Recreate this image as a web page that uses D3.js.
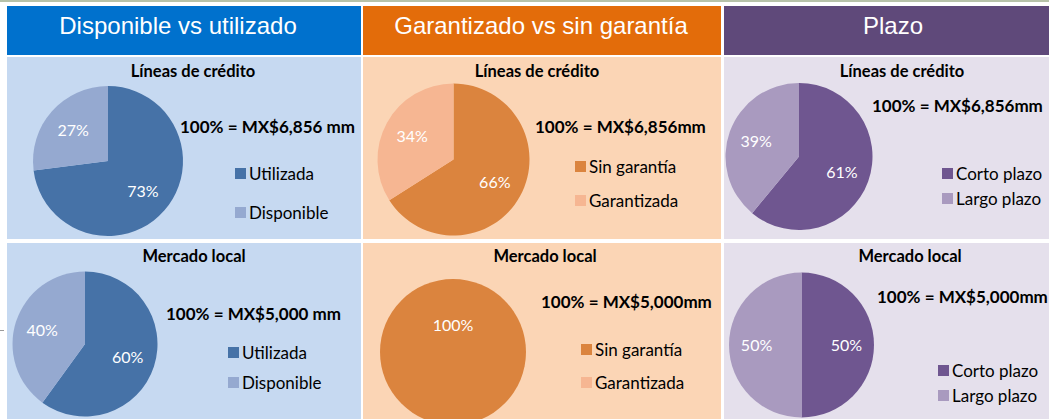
<!DOCTYPE html>
<html>
<head>
<meta charset="utf-8">
<script src="https://cdn.jsdelivr.net/npm/d3@7"></script>
<style>
  html, body { margin: 0; padding: 0; background: #fff; }
  svg { display: block; }
</style>
</head>
<body>
<div id="chart"></div>
<script>
// datos
const groups = ['Disponible vs utilizado', 'Garantizado vs sin garantía', 'Plazo'];
const rowTitles = ['Líneas de crédito', 'Mercado local'];
const seriesNames = [
    ['Utilizada', 'Disponible'],
    ['Sin garantía', 'Garantizada'],
    ['Corto plazo', 'Largo plazo']
];
const lineasValues = [[73, 27], [66, 34], [61, 39]];
const mercadoValues = [[60, 40], [100, 0], [50, 50]];
const lineasTotals = ['100% = MX$6,856 mm', '100% = MX$6,856mm', '100% = MX$6,856mm'];
const mercadoTotals = ['100% = MX$5,000 mm', '100% = MX$5,000mm', '100% = MX$5,000mm'];

const width = 1049;
const height = 419;

// colores por grupo
const headerColors = ['#0071CD', '#E36C0A', '#5F497A'];
const panelColors = ['#C6D9F1', '#FBD5B5', '#E5E0EC'];
const sliceColors = [['#4672A7', '#95A9D0'], ['#DB843E', '#F6B692'], ['#6F5690', '#A99ABF']];

// columnas y filas
const cols = [{ x0: 7, x1: 361 }, { x0: 363, x1: 721 }, { x0: 724, x1: 1049 }];
const header = { y0: 6, y1: 55 };
const rowsBox = [{ y0: 57, y1: 239 }, { y0: 243, y1: 419 }];

// posiciones de cada celda (fila, columna)
const layout = [
    [
        { cx: 108, cy: 161, r: 75, title: 193, titleY: 77, tx: 180, ty: 133, lx: 235, ly: [168, 207] },
        { cx: 453.5, cy: 159.5, r: 76, title: 537, titleY: 77, tx: 535, ty: 133, lx: 575, ly: [161, 195] },
        { cx: 799, cy: 156.5, r: 73.5, title: 902, titleY: 77, tx: 872, ty: 112, lx: 942, ly: [168, 193] }
    ],
    [
        { cx: 85, cy: 344, r: 72.5, title: 194, titleY: 262, tx: 166, ty: 320, lx: 228, ly: [347, 377] },
        { cx: 453, cy: 352, r: 73, title: 545, titleY: 262, tx: 541, ty: 308, lx: 581, ly: [344, 377] },
        { cx: 801.5, cy: 345, r: 72.5, title: 910, titleY: 262, tx: 877, ty: 303, lx: 938, ly: [365, 390] }
    ]
];
const headerTextX = [178, 541, 893];

const svg = d3.select('#chart')
    .append('svg')
    .attr('width', width)
    .attr('height', height);

// línea superior
svg.append('rect')
    .attr('x', 0).attr('y', 0)
    .attr('width', width).attr('height', 2)
    .attr('fill', '#B7C2A9');

// marca pequeña a la izquierda
svg.append('line')
    .attr('x1', 0).attr('x2', 4)
    .attr('y1', 330.5).attr('y2', 330.5)
    .attr('stroke', '#9a9a9a');

// encabezados
cols.forEach((c, i) => {
    svg.append('rect')
        .attr('x', c.x0).attr('y', header.y0)
        .attr('width', c.x1 - c.x0).attr('height', header.y1 - header.y0)
        .attr('fill', headerColors[i]);

    svg.append('text')
        .attr('x', headerTextX[i])
        .attr('y', 34)
        .attr('text-anchor', 'middle')
        .attr('fill', '#fff')
        .style('font-family', '"Liberation Sans", Arial, sans-serif')
        .style('font-size', '24px')
        .text(groups[i]);

    rowsBox.forEach(rb => {
        svg.append('rect')
            .attr('x', c.x0).attr('y', rb.y0)
            .attr('width', c.x1 - c.x0).attr('height', rb.y1 - rb.y0)
            .attr('fill', panelColors[i]);
    });
});

const pie = d3.pie().sort(null).value(d => d);
const bodyFont = 'Lato, Carlito, Calibri, sans-serif';

const rowValues = [lineasValues, mercadoValues];
const rowTotals = [lineasTotals, mercadoTotals];

rowValues.forEach((valuesByGroup, ri) => {
    valuesByGroup.forEach((values, ci) => {
        const L = layout[ri][ci];
        const g = svg.append('g');

        // título de la celda
        g.append('text')
            .attr('x', L.title)
            .attr('y', L.titleY)
            .attr('text-anchor', 'middle')
            .attr('fill', '#000')
            .style('font-family', bodyFont)
            .style('font-weight', 'bold')
            .style('font-size', '16.5px')
            .text(rowTitles[ri]);

        // pastel
        const arcs = pie(values);
        const arc = d3.arc().innerRadius(0).outerRadius(L.r);
        const pg = g.append('g').attr('transform', `translate(${L.cx},${L.cy})`);

        pg.selectAll('path')
            .data(arcs)
            .join('path')
            .attr('d', arc)
            .attr('fill', (d, i) => sliceColors[ci][i]);

        // etiquetas de porcentaje
        pg.selectAll('text')
            .data(arcs.filter(d => d.value > 0))
            .join('text')
            .attr('transform', d => {
                const full = d.endAngle - d.startAngle >= 2 * Math.PI - 1e-6;
                const a = full ? 0 : (d.startAngle + d.endAngle) / 2;
                const k = full ? 0.37 : 0.62;
                return `translate(${Math.sin(a) * L.r * k},${-Math.cos(a) * L.r * k})`;
            })
            .attr('dy', '0.35em')
            .attr('text-anchor', 'middle')
            .attr('fill', '#fff')
            .style('font-family', bodyFont)
            .style('font-size', '16px')
            .text(d => `${d.value}%`);

        // total
        g.append('text')
            .attr('x', L.tx)
            .attr('y', L.ty)
            .attr('fill', '#000')
            .style('font-family', bodyFont)
            .style('font-weight', 'bold')
            .style('font-size', '17px')
            .text(rowTotals[ri][ci]);

        // leyenda
        seriesNames[ci].forEach((name, i) => {
            g.append('rect')
                .attr('x', L.lx)
                .attr('y', L.ly[i])
                .attr('width', 11)
                .attr('height', 11)
                .attr('fill', sliceColors[ci][i]);
            g.append('text')
                .attr('x', L.lx + 14)
                .attr('y', L.ly[i] + 11.5)
                .attr('fill', '#000')
                .style('font-family', bodyFont)
                .style('font-size', '17px')
                .text(name);
        });
    });
});
</script>
</body>
</html>
